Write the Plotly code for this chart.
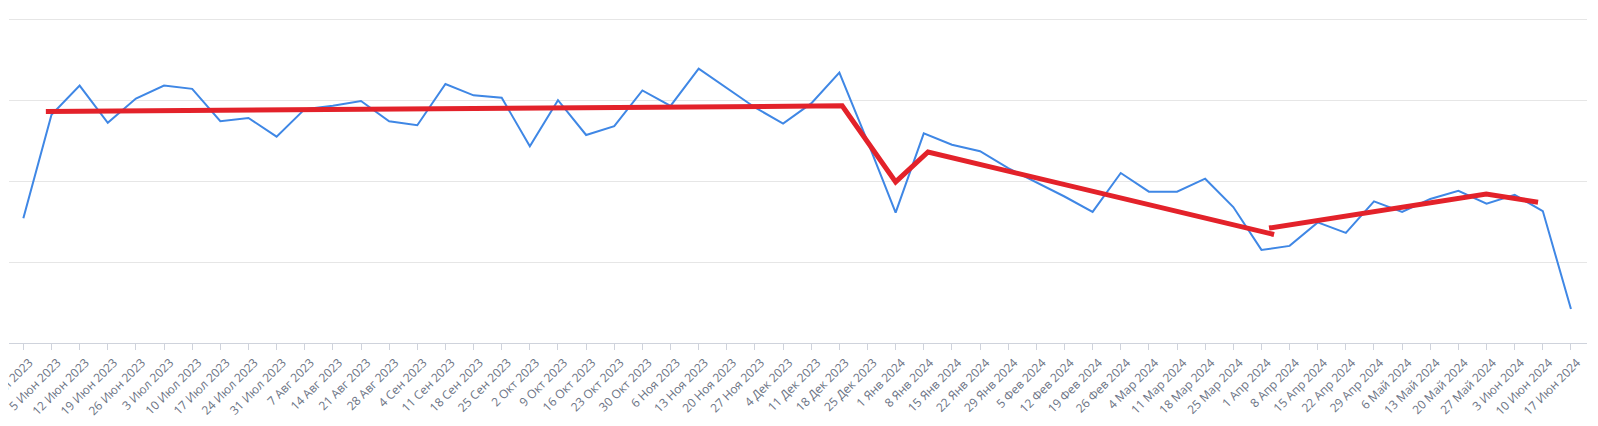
import plotly.graph_objects as go

dates = ["29 Май 2023", "5 Июн 2023", "12 Июн 2023", "19 Июн 2023", "26 Июн 2023",
         "3 Июл 2023", "10 Июл 2023", "17 Июл 2023", "24 Июл 2023", "31 Июл 2023",
         "7 Авг 2023", "14 Авг 2023", "21 Авг 2023", "28 Авг 2023", "4 Сен 2023",
         "11 Сен 2023", "18 Сен 2023", "25 Сен 2023", "2 Окт 2023", "9 Окт 2023",
         "16 Окт 2023", "23 Окт 2023", "30 Окт 2023", "6 Ноя 2023", "13 Ноя 2023",
         "20 Ноя 2023", "27 Ноя 2023", "4 Дек 2023", "11 Дек 2023", "18 Дек 2023",
         "25 Дек 2023", "1 Янв 2024", "8 Янв 2024", "15 Янв 2024", "22 Янв 2024",
         "29 Янв 2024", "5 Фев 2024", "12 Фев 2024", "19 Фев 2024", "26 Фев 2024",
         "4 Мар 2024", "11 Мар 2024", "18 Мар 2024", "25 Мар 2024", "1 Апр 2024",
         "8 Апр 2024", "15 Апр 2024", "22 Апр 2024", "29 Апр 2024", "6 Май 2024",
         "13 Май 2024", "20 Май 2024", "27 Май 2024", "3 Июн 2024", "10 Июн 2024",
         "17 Июн 2024"]

values = [154, 282, 318, 272, 302, 318, 314, 274, 278, 255,
          289, 293, 299, 274, 269, 320, 306, 303, 243, 300,
          257, 268, 312, 293, 339, 315, 291, 271, 296, 334,
          249, 161, 259, 245, 237, 216, 199, 181, 162, 210,
          187, 187, 203, 168, 115, 120, 149, 136, 175, 162,
          178, 188, 172, 183, 163, 42]

# hand-drawn trend segments (positions in week-index units)
trend1_x = [0.8, 29.1, 31.0, 32.15, 44.45]
trend1_y = [286, 293, 199, 236, 134]
trend2_x = [44.27, 51.99, 53.83]
trend2_y = [142, 184, 174]

idx = list(range(len(dates)))

fig = go.Figure()
fig.add_trace(go.Scatter(x=idx, y=values, mode="lines",
                         line=dict(color="#3f87e5", width=2), showlegend=False))
fig.add_trace(go.Scatter(x=trend1_x, y=trend1_y, mode="lines",
                         line=dict(color="#e3222a", width=5), showlegend=False))
fig.add_trace(go.Scatter(x=trend2_x, y=trend2_y, mode="lines",
                         line=dict(color="#e3222a", width=5), showlegend=False))

# page body has an 8px default margin; figure is sized to fill the rest
fig.update_layout(
    width=1590, height=418,
    margin=dict(l=1, r=11, t=8, b=83),
    paper_bgcolor="white", plot_bgcolor="white",
    font=dict(family="Open Sans, sans-serif"),
    xaxis=dict(
        range=[-0.51, 55.57],
        tickmode="array", tickvals=idx, ticktext=dates,
        tickangle=-45, ticks="outside", ticklen=6, tickcolor="#cfd3dc",
        tickfont=dict(size=12, color="#6b7384"),
        ticklabeloverflow="allow", ticklabelstandoff=1, ticklabelshift=6,
        showgrid=False, showline=True, linecolor="#cfd3dc", linewidth=1,
        zeroline=False, automargin=False,
    ),
    yaxis=dict(
        range=[0, 404], tickvals=[0, 100, 200, 300, 400],
        showticklabels=False, showgrid=True, gridcolor="#e6e6e6",
        zeroline=False, automargin=False,
    ),
)

fig.write_html("out.html")
